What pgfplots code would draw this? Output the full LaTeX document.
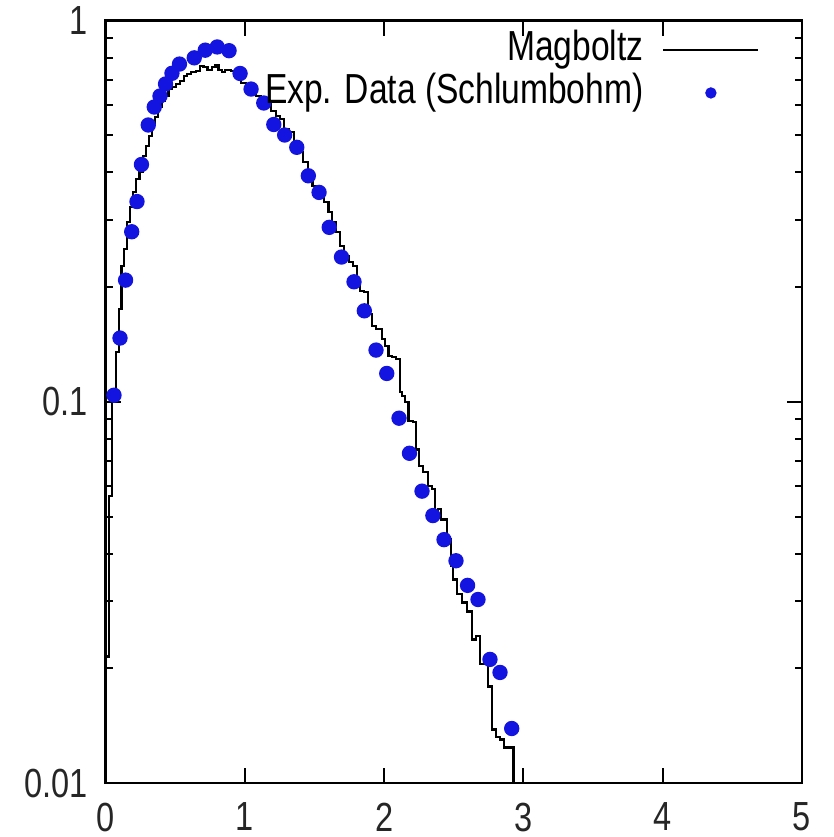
\documentclass[border=0pt]{standalone}
\usepackage{fontspec}
\setmainfont{Liberation Sans}[FakeStretch=0.8]
\usepackage{pgfplots}
\pgfplotsset{compat=1.18}
\definecolor{expblue}{RGB}{20,20,225}

\begin{document}
\fontsize{12.6}{15}\selectfont
\begin{tikzpicture}
\begin{axis}[
    scale only axis,
    width=208.95pt, height=228.69pt,
    xmin=0, xmax=5,
    ymode=log, ymin=0.01, ymax=1,
    xtick={0,1,2,3,4,5},
    ytick={0.01,0.1,1},
    yticklabels={0.01,0.1,1},
    minor ytick={0.02,0.03,0.04,0.05,0.06,0.07,0.08,0.09,0.2,0.3,0.4,0.5,0.6,0.7,0.8,0.9},
    tick align=inside,
    major tick length=4.5pt,
    minor tick length=2.2pt,
    every tick/.style={black, line width=0.6pt},
    axis line style={line width=0.7pt},
    /pgf/number format/assume math mode=true,
    tick label style={font=\fontsize{12.2}{15}\selectfont, text=black!85},
    xticklabel style={yshift=-1.6pt},
    yticklabel style={xshift=-1pt},
    legend plot pos=right,
    legend cell align=right,
    legend style={at={(0.94,0.99)}, anchor=north east, draw=none, fill=none,
        inner sep=0pt, font=\fontsize{12.6}{15}\selectfont,
        nodes={text height=9pt, text depth=2.6pt, inner sep=0.6pt},
        /tikz/every odd column/.append style={column sep=5pt}},
]
\addplot[const plot, black, line width=0.75pt,
    legend image code/.code={\draw[black, line width=0.7pt] (0pt,0pt) -- (28.5pt,0pt);}]
coordinates {
(0,0.0215) (0.025,0.0566) (0.047,0.1035) (0.075,0.1351) (0.097,0.1751)
(0.115,0.2271) (0.133,0.2517) (0.154,0.2962) (0.176,0.3243) (0.197,0.3551)
(0.219,0.3842) (0.244,0.4008) (0.269,0.4415) (0.291,0.469) (0.312,0.498)
(0.334,0.5357) (0.355,0.5588) (0.377,0.5935) (0.406,0.6154) (0.427,0.6343)
(0.452,0.6616) (0.477,0.6698) (0.506,0.6821) (0.535,0.6946) (0.564,0.7157)
(0.585,0.7244) (0.614,0.7332) (0.650,0.7379) (0.678,0.7605) (0.704,0.756)
(0.732,0.7424) (0.765,0.756) (0.790,0.765) (0.811,0.7424) (0.836,0.7332)
(0.858,0.7424) (0.901,0.7379) (0.937,0.7113) (0.973,0.6862) (1.009,0.6698)
(1.045,0.6498) (1.081,0.6343) (1.116,0.6229) (1.152,0.6043) (1.188,0.5794)
(1.224,0.5622) (1.253,0.5521) (1.281,0.5196) (1.317,0.5103) (1.353,0.4805)
(1.389,0.4522) (1.418,0.4257) (1.454,0.3911) (1.486,0.3682) (1.525,0.3508)
(1.569,0.3343) (1.601,0.3148) (1.626,0.2962) (1.655,0.2789) (1.683,0.2562)
(1.712,0.2412) (1.748,0.2326) (1.777,0.2271) (1.805,0.2061) (1.827,0.1952)
(1.856,0.194) (1.884,0.1699) (1.913,0.158) (1.942,0.1551) (1.985,0.1461)
(2.006,0.14) (2.032,0.1318) (2.057,0.131) (2.085,0.1294) (2.114,0.106)
(2.128,0.1035) (2.150,0.0998) (2.175,0.089) (2.207,0.0885) (2.229,0.0751)
(2.251,0.0678) (2.279,0.0654) (2.315,0.0601) (2.344,0.059) (2.365,0.0507)
(2.387,0.0523) (2.408,0.0492) (2.451,0.0436) (2.480,0.0371) (2.495,0.0342)
(2.523,0.0313) (2.559,0.0298) (2.594,0.0282) (2.631,0.0238) (2.660,0.0243)
(2.688,0.0205) (2.717,0.0207) (2.746,0.0179) (2.775,0.0138) (2.803,0.0132)
(2.832,0.013) (2.861,0.0124) (2.900,0.0124) (2.930,0.005)
};
\addlegendentry{Magboltz}
\addplot[only marks, mark=*, mark size=2.1pt, expblue,
    legend image code/.code={\fill[expblue] (14.25pt,0pt) circle (1.5pt);}]
coordinates {
(0.061,0.1041) (0.104,0.1470) (0.144,0.2086) (0.188,0.2794) (0.226,0.3353)
(0.258,0.4194) (0.307,0.5324) (0.350,0.5935) (0.391,0.6343) (0.431,0.6821)
(0.477,0.7275) (0.531,0.7696) (0.637,0.7990) (0.716,0.8367) (0.802,0.8531)
(0.887,0.8341) (0.966,0.7268) (1.045,0.6616) (1.136,0.6081) (1.208,0.5341)
(1.286,0.5012) (1.373,0.4653) (1.456,0.3918) (1.533,0.3544) (1.606,0.2869)
(1.694,0.2398) (1.784,0.2065) (1.858,0.1733) (1.942,0.1367) (2.019,0.1187)
(2.107,0.0906) (2.182,0.0733) (2.272,0.0583) (2.350,0.0503) (2.430,0.0435)
(2.516,0.0383) (2.599,0.0330) (2.674,0.0303) (2.760,0.0211) (2.832,0.0195)
(2.916,0.0139)
};
\addlegendentry{Exp. Data (Schlumbohm)}
\end{axis}
\pgfresetboundingbox
\useasboundingbox ([xshift=-31.65pt, yshift=-16.2pt]current axis.south west)
    rectangle ([xshift=9.3pt, yshift=6.2pt]current axis.north east);
\end{tikzpicture}
\end{document}
